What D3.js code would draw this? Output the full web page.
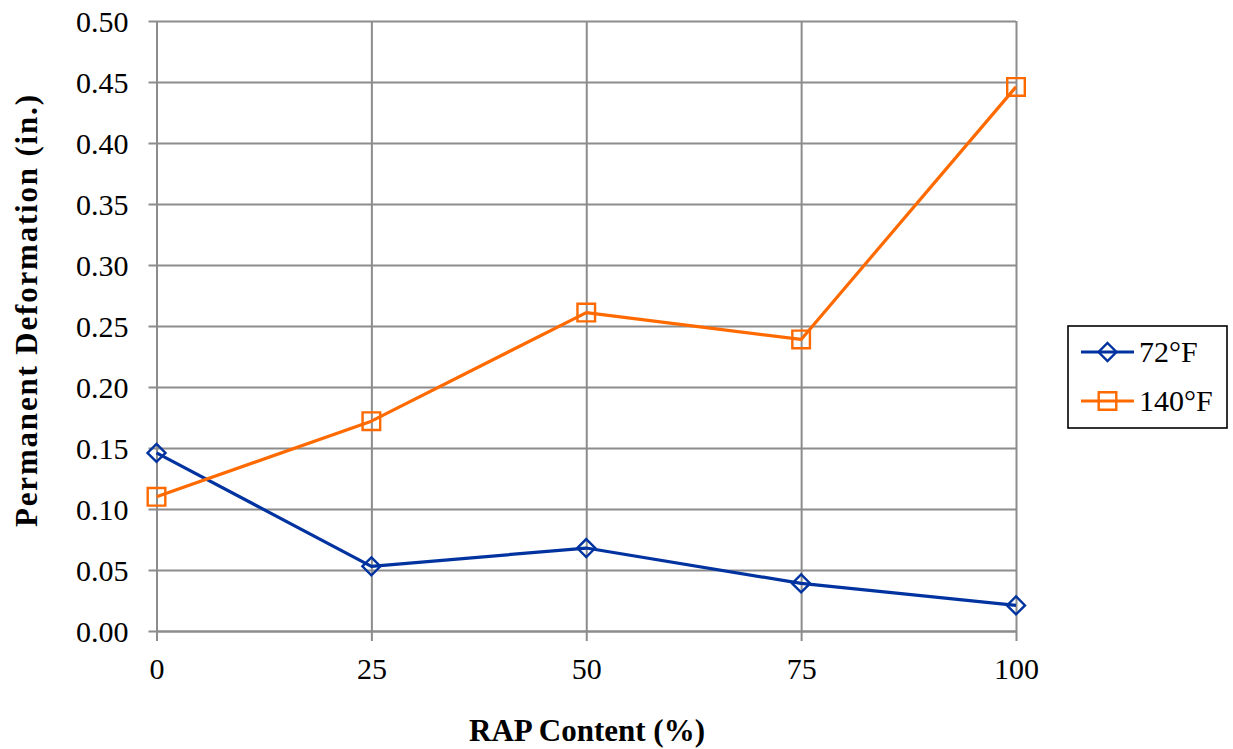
<!DOCTYPE html>
<html>
<head>
<meta charset="utf-8">
<script src="https://cdn.jsdelivr.net/npm/d3@7"></script>
<style>
  html, body { margin: 0; padding: 0; background: #fff; }
  svg { display: block; }
  text { font-family: "Liberation Serif", "Times New Roman", serif; fill: #000; }
</style>
</head>
<body>
<svg id="chart" width="1233" height="749"></svg>
<script>
// ---- data ----
const rapContent = [0, 25, 50, 75, 100];
const series72F = [0.146, 0.053, 0.068, 0.039, 0.021];
const series140F = [0.110, 0.172, 0.261, 0.239, 0.446];
const seriesNames = ["72°F", "140°F"];
const xTicks = [0, 25, 50, 75, 100];
const yTicks = [0.00, 0.05, 0.10, 0.15, 0.20, 0.25, 0.30, 0.35, 0.40, 0.45, 0.50];
const xTitle = "RAP Content (%)";
const yTitle = "Permanent  Deformation (in.)";

(function () {
// ---- layout ----
const svg = d3.select("#chart");
const pLeft = 156.5, pRight = 1016, pTop = 21, pBottom = 631;
const gridColor = "#8c8c8c";
const blue = "#0033a0";
const orange = "#ff6a00";

const x = d3.scaleLinear().domain([0, 100]).range([pLeft, pRight]);
const y = d3.scaleLinear().domain([0, 0.5]).range([pBottom, pTop]);

// horizontal gridlines + y axis
const yAxis = d3.axisLeft(y).tickValues(yTicks).tickFormat(d3.format(".2f"))
  .tickSizeInner(-(pRight - pLeft)).tickSizeOuter(0).tickPadding(20);
const gy = svg.append("g").attr("transform", `translate(${pLeft},0)`).call(yAxis);
gy.select(".domain").attr("stroke", gridColor).attr("stroke-width", 2);
gy.selectAll(".tick line").attr("stroke", gridColor).attr("stroke-width", 2).attr("x1", -8);
gy.selectAll(".tick text").attr("font-size", 30).attr("x", -28).attr("dy", "0.34em")
  .style("font-family", "Liberation Serif");

// vertical gridlines + x axis
const xAxis = d3.axisBottom(x).tickValues(xTicks).tickFormat(d3.format("d"))
  .tickSizeInner(-(pBottom - pTop)).tickSizeOuter(0);
const gx = svg.append("g").attr("transform", `translate(0,${pBottom})`).call(xAxis);
gx.select(".domain").attr("stroke", gridColor).attr("stroke-width", 2);
gx.selectAll(".tick line").attr("stroke", gridColor).attr("stroke-width", 2).attr("y1", 10);
gx.selectAll(".tick text").attr("font-size", 30).attr("y", 48).attr("dy", 0)
  .style("font-family", "Liberation Serif");

// axis titles
svg.append("text").attr("x", 587).attr("y", 741).attr("text-anchor", "middle")
  .attr("font-size", 31).attr("font-weight", "bold").text(xTitle);
svg.append("text").attr("transform", "translate(37,311) rotate(-90)")
  .attr("text-anchor", "middle").attr("font-size", 31).attr("font-weight", "bold")
  .attr("textLength", 432).attr("lengthAdjust", "spacing").text(yTitle);

// series
const line = d3.line().x((d, i) => x(rapContent[i])).y(d => y(d));
const diamond = (cx, cy, r) => `M${cx},${cy - r}L${cx + r},${cy}L${cx},${cy + r}L${cx - r},${cy}Z`;
const square = (cx, cy, h) => `M${cx - h},${cy - h}H${cx + h}V${cy + h}H${cx - h}Z`;

svg.append("path").attr("d", line(series72F)).attr("fill", "none")
  .attr("stroke", blue).attr("stroke-width", 3.2).attr("stroke-linejoin", "round");
svg.append("g").selectAll("path").data(series72F).join("path")
  .attr("d", (d, i) => diamond(x(rapContent[i]), y(d), 9))
  .attr("fill", "none").attr("stroke", blue).attr("stroke-width", 2.4);

svg.append("path").attr("d", line(series140F)).attr("fill", "none")
  .attr("stroke", orange).attr("stroke-width", 3.2).attr("stroke-linejoin", "round");
svg.append("g").selectAll("path").data(series140F).join("path")
  .attr("d", (d, i) => square(x(rapContent[i]), y(d), 8.8))
  .attr("fill", "none").attr("stroke", orange).attr("stroke-width", 2.4);

// legend
const lg = svg.append("g");
lg.append("rect").attr("x", 1068).attr("y", 326).attr("width", 159).attr("height", 102)
  .attr("fill", "#fff").attr("stroke", "#000").attr("stroke-width", 1.6);
const legendItems = [
  { name: seriesNames[0], color: blue, type: "diamond", ly: 352 },
  { name: seriesNames[1], color: orange, type: "square", ly: 401 }
];
legendItems.forEach(it => {
  lg.append("line").attr("x1", 1081).attr("x2", 1134).attr("y1", it.ly).attr("y2", it.ly)
    .attr("stroke", it.color).attr("stroke-width", 3.2);
  lg.append("path")
    .attr("d", it.type === "diamond" ? diamond(1107.5, it.ly, 9) : square(1107.5, it.ly, 8.8))
    .attr("fill", "none").attr("stroke", it.color).attr("stroke-width", 2.4);
  lg.append("text").attr("x", 1139).attr("y", it.ly + 9.5).attr("font-size", 30).text(it.name);
});
})();
</script>
</body>
</html>
